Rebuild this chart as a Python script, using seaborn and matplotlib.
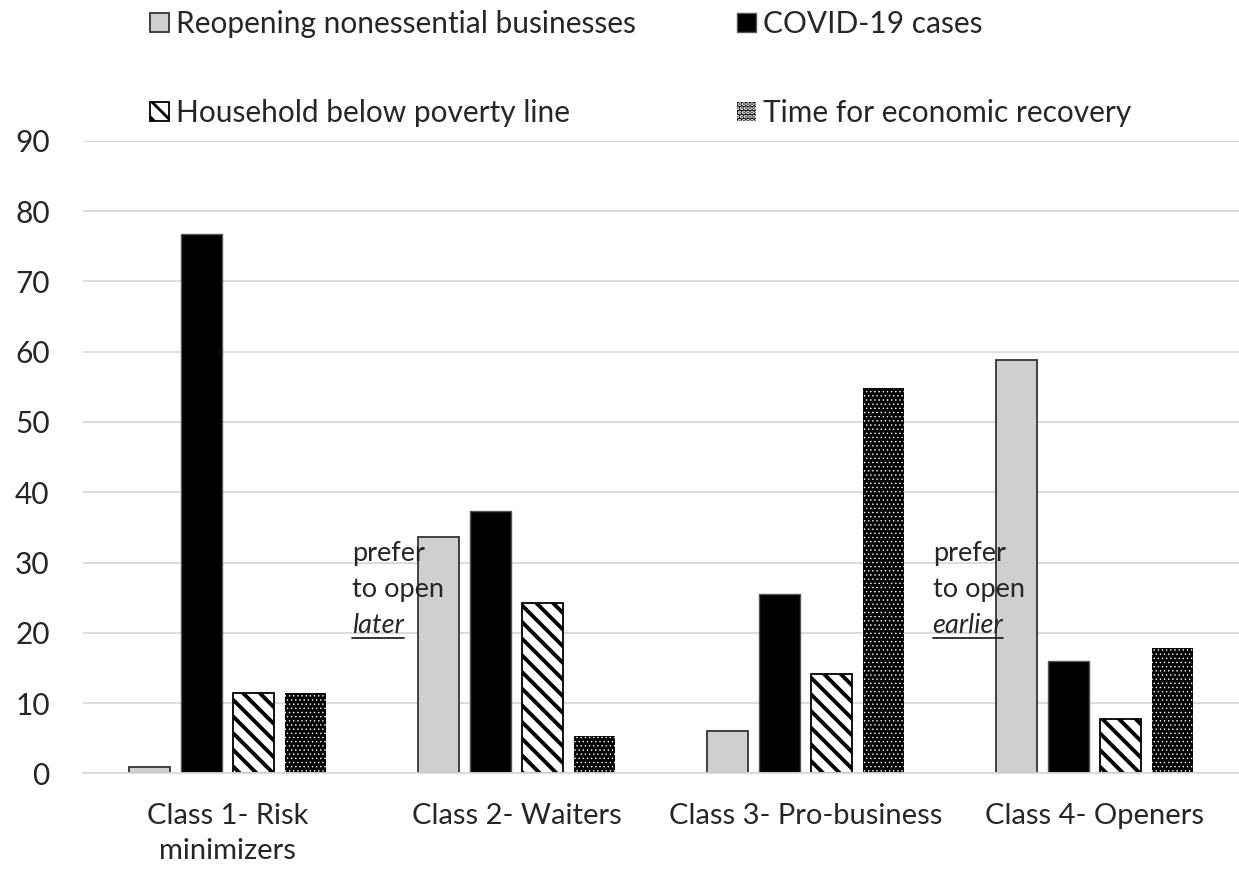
import matplotlib
matplotlib.use("Agg")
import matplotlib.pyplot as plt
import seaborn as sns
import pandas as pd
from matplotlib.patches import Patch
from matplotlib.lines import Line2D

categories = ["Class 1- Risk\nminimizers", "Class 2- Waiters", "Class 3- Pro-business", "Class 4- Openers"]
series = ["Reopening nonessential businesses", "COVID-19 cases",
          "Household below poverty line", "Time for economic recovery"]
reopening = [0.9, 33.6, 6.0, 58.8]
covid = [76.8, 37.3, 25.5, 16.0]
poverty = [11.4, 24.2, 14.1, 7.7]
recovery = [11.4, 5.3, 54.8, 17.9]
yticks = [0, 10, 20, 30, 40, 50, 60, 70, 80, 90]

sns.set_theme(style="white")
plt.rcParams["font.family"] = ["Lato", "DejaVu Sans"]
plt.rcParams["hatch.linewidth"] = 2.0
TXT = "#262626"

rows = []
for s, vals in zip(series, [reopening, covid, poverty, recovery]):
    for c, v in zip(categories, vals):
        rows.append({"category": c, "series": s, "value": v})
df = pd.DataFrame(rows)

styles = [
    dict(facecolor="#d0cfd0", edgecolor="#333333", linewidth=1.3, hatch=None),
    dict(facecolor="black", edgecolor="#555555", linewidth=1.0, hatch=None),
    dict(facecolor="white", edgecolor="black", linewidth=1.3, hatch="\\\\"),
    dict(facecolor="black", edgecolor="white", linewidth=0.0, hatch="...."),
]
hatch_lw = [None, None, 2.8, 0.5]

fig = plt.figure(figsize=(12.39, 8.69), dpi=100)
ax = fig.add_axes([0.067, 0.110, 0.933, 0.728])
sns.barplot(data=df, x="category", y="value", hue="series", order=categories,
            hue_order=series, width=0.72, gap=0.2, ax=ax, legend=False,
            palette=["#d0cfd0", "black", "white", "black"], errorbar=None)

for cont, st, hl in zip(ax.containers, styles, hatch_lw):
    for p in cont:
        p.set_facecolor(st["facecolor"])
        p.set_edgecolor(st["edgecolor"])
        p.set_linewidth(st["linewidth"])
        if st["hatch"]:
            p.set_hatch(st["hatch"])
            if hl is not None and hasattr(p, "set_hatch_linewidth"):
                p.set_hatch_linewidth(hl)

ax.set_ylim(0, 90)
ax.set_xlim(-0.5, 3.5)
ax.set_yticks(yticks)
ax.set_yticklabels([str(t) for t in yticks])
ax.yaxis.grid(True, color="#d9d9d9", linewidth=1.3)
ax.set_axisbelow(True)
for s in ["top", "right", "left"]:
    ax.spines[s].set_visible(False)
ax.spines["bottom"].set_color("#d9d9d9")
ax.spines["bottom"].set_linewidth(1.3)
ax.tick_params(axis="y", length=0, pad=24, labelsize=21.5, labelcolor=TXT)
ax.tick_params(axis="x", length=0, pad=21, labelsize=21, labelcolor=TXT)
for lab in ax.get_xticklabels():
    lab.set_linespacing(1.45)
ax.set_xlabel("")
ax.set_ylabel("")

# legend items placed individually
leg_pos = [(150, 24), (737, 24), (150, 113), (737, 113)]
for st, hl, name, (px, py) in zip(styles, hatch_lw, series, leg_pos):
    h = Patch(facecolor=st["facecolor"], edgecolor=st["edgecolor"] if st["linewidth"] > 0 else "white",
              linewidth=max(st["linewidth"], 0.0), hatch=st["hatch"], label=name)
    if hl is not None and hasattr(h, "set_hatch_linewidth"):
        h.set_hatch_linewidth(min(hl, 1.5))
    lg = fig.legend(handles=[h], loc="center left", bbox_to_anchor=(px / 1239, 1 - py / 869),
                    frameon=False, fontsize=21.5, handlelength=0.62, handleheight=0.62,
                    handletextpad=0.25, borderpad=0, borderaxespad=0)
    for t in lg.get_texts():
        t.set_color(TXT)

# annotations
ann = [(0.43, ["prefer", "to open", "later"]), (2.44, ["prefer", "to open", "earlier"])]
ys = [31.3, 26.2, 21.1]
italics = []
for x, lines in ann:
    for i, (line, y) in enumerate(zip(lines, ys)):
        t = ax.text(x, y, line, fontsize=19.5, color=TXT, ha="left", va="center",
                    style="italic" if i == 2 else "normal")
        if i == 2:
            italics.append(t)

fig.canvas.draw()
r = fig.canvas.get_renderer()
inv = ax.transData.inverted()
for t in italics:
    bb = t.get_window_extent(renderer=r)
    x0 = inv.transform((bb.x0, 0))[0]
    x1 = inv.transform((bb.x1, 0))[0]
    ax.add_line(Line2D([x0, x1], [19.2, 19.2], color=TXT, linewidth=1.3))

fig.savefig("out.png", dpi=100)
